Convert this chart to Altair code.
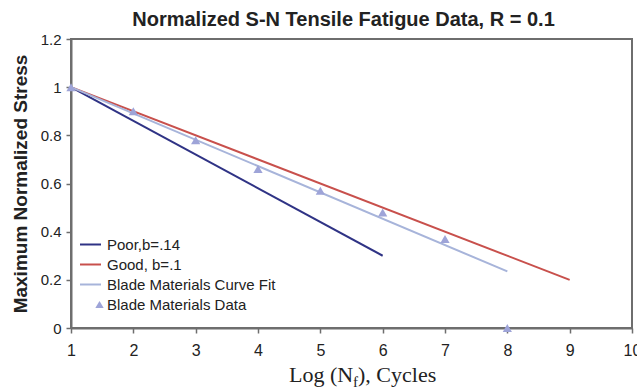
import altair as alt
import pandas as pd

# ---- data ----
line_names = ["Poor,b=.14", "Good, b=.1", "Blade Materials Curve Fit"]
line_colors = ["#2F3385", "#C8504C", "#A7B4DA"]
data_name = "Blade Materials Data"
data_color = "#9EA4D8"

poor_x = [1, 6]
poor_y = [1.0, 0.30]
good_x = [1, 9]
good_y = [1.0, 0.20]
fit_x = [1, 8]
fit_y = [1.0, 0.235]
data_x = [1, 2, 3, 4, 5, 6, 7, 8]
data_y = [1.0, 0.90, 0.78, 0.66, 0.57, 0.48, 0.37, 0.0]

x_ticks = [1, 2, 3, 4, 5, 6, 7, 8, 9, 10]
y_ticks = [0, 0.2, 0.4, 0.6, 0.8, 1.0, 1.2]

lines = pd.concat([
    pd.DataFrame({"x": poor_x, "y": poor_y, "series": line_names[0]}),
    pd.DataFrame({"x": good_x, "y": good_y, "series": line_names[1]}),
    pd.DataFrame({"x": fit_x, "y": fit_y, "series": line_names[2]}),
])
points = pd.DataFrame({"x": data_x, "y": data_y, "series": data_name})

W, H = 561, 289
FONT = "Liberation Sans"
TXT = "#222222"
AX = "#6E6E6E"

xs = alt.Scale(domain=[1, 10], nice=False)
ys = alt.Scale(domain=[0, 1.2], nice=False)

line_legend = alt.Legend(
    title=None, orient="none", legendX=8, legendY=194,
    labelFont=FONT, labelFontSize=15, labelColor=TXT, labelLimit=400,
    symbolType="stroke", symbolSize=441, symbolStrokeWidth=2, symbolOpacity=1,
    rowPadding=0, labelOffset=5, padding=0,
)
data_legend = alt.Legend(
    title=None, orient="none", legendX=8, legendY=258,
    labelFont=FONT, labelFontSize=15, labelColor=TXT, labelLimit=400,
    symbolSize=70, symbolFillColor=data_color, symbolStrokeWidth=0, symbolOpacity=1,
    symbolOffset=13, rowPadding=0, labelOffset=0, padding=0,
)

x_axis = alt.Axis(values=x_ticks, format="d", title=None, grid=False, labelFont=FONT,
                  labelFontSize=16, labelColor=TXT, tickColor=AX, domainColor=AX, domainWidth=2,
                  tickSize=5, tickWidth=1.5, labelPadding=9, labelFlush=False)
y_axis = alt.Axis(values=y_ticks, format="~g", title="Maximum Normalized Stress", grid=False,
                  labelFont=FONT, labelFontSize=15, labelColor=TXT, tickColor=AX,
                  domainColor=AX, domainWidth=2, tickSize=5, tickWidth=1.5, labelPadding=5,
                  labelFlush=False,
                  titleFont=FONT, titleFontSize=19, titleFontWeight="bold", titleColor=TXT,
                  titleX=-51, titleY=H / 2, titleAngle=270, titleAlign="center",
                  titleBaseline="middle")

line_layer = alt.Chart(lines).mark_line(strokeWidth=2).encode(
    x=alt.X("x:Q", scale=xs, axis=x_axis),
    y=alt.Y("y:Q", scale=ys, axis=y_axis),
    color=alt.Color("series:N", scale=alt.Scale(domain=line_names, range=line_colors),
                    legend=line_legend),
    detail="series:N",
)

point_layer = alt.Chart(points).mark_point(filled=True, size=85, opacity=1, color=data_color).encode(
    x=alt.X("x:Q", scale=xs),
    y=alt.Y("y:Q", scale=ys),
    shape=alt.Shape("series:N", scale=alt.Scale(domain=[data_name], range=["triangle-up"]),
                    legend=data_legend),
)

# x-axis title with subscript, built from three text pieces
t1 = alt.Chart(pd.DataFrame({"t": ["Log (N"]})).mark_text(
    font="Liberation Serif", fontSize=22, color=TXT, align="left", baseline="alphabetic"
).encode(x=alt.value(218), y=alt.value(343), text="t:N")
t2 = alt.Chart(pd.DataFrame({"t": ["f"]})).mark_text(
    font="Liberation Serif", fontSize=15, color=TXT, align="left", baseline="alphabetic"
).encode(x=alt.value(282), y=alt.value(348), text="t:N")
t3 = alt.Chart(pd.DataFrame({"t": ["), Cycles"]})).mark_text(
    font="Liberation Serif", fontSize=22, color=TXT, align="left", baseline="alphabetic"
).encode(x=alt.value(287), y=alt.value(343), text="t:N")

chart = alt.layer(line_layer, point_layer, t1, t2, t3).properties(
    width=W, height=H,
    title=alt.TitleParams("Normalized S-N Tensile Fatigue Data, R = 0.1", font=FONT, fontSize=20,
                          fontWeight="bold", color=TXT, anchor="middle", dx=-8, dy=26,
                          baseline="alphabetic", offset=12),
    autosize=alt.AutoSizeParams(type="none"),
    padding={"left": 71, "top": 39, "right": 5, "bottom": 62},
    background="white",
).configure_view(stroke=AX, strokeWidth=2)

chart.save("out.html", embed_options={"renderer": "svg", "actions": False})
